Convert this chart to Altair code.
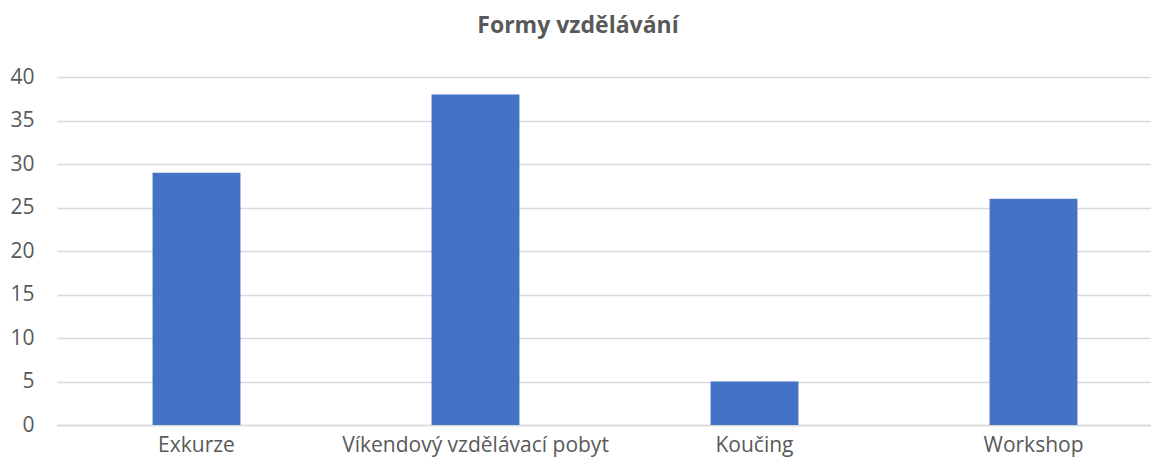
import altair as alt
import pandas as pd

categories = ["Exkurze", "Víkendový vzdělávací pobyt", "Koučing", "Workshop"]
values = [29, 38, 5, 26]

df = pd.DataFrame({"forma": categories, "pocet": values})

FONT = "Open Sans"
TXT = "#595959"
GRID = "#D9D9D9"

chart = (
    alt.Chart(df)
    .mark_bar(color="#4472C4")
    .encode(
        x=alt.X(
            "forma:N",
            sort=categories,
            title=None,
            scale=alt.Scale(range=[0, 1116], paddingInner=0.685, paddingOuter=0.3425),
            axis=alt.Axis(
                labelAngle=0,
                ticks=False,
                domain=True,
                domainColor=GRID,
                domainWidth=1.5,
                labelPadding=9,
                labelFont=FONT,
                labelFontSize=21,
                labelColor=TXT,
                labelLimit=0,
                grid=False,
            ),
        ),
        y=alt.Y(
            "pocet:Q",
            title=None,
            scale=alt.Scale(domain=[0, 40]),
            axis=alt.Axis(
                values=[0, 5, 10, 15, 20, 25, 30, 35, 40],
                ticks=False,
                domain=False,
                gridColor=GRID,
                gridWidth=1.5,
                labelPadding=23,
                labelFont=FONT,
                labelFontSize=21,
                labelColor=TXT,
            ),
        ),
    )
    .properties(
        width=1094,
        height=348,
        autosize=alt.AutoSizeParams(type="none"),
        padding={"left": 49, "top": 69, "right": 0, "bottom": 32},
        title=alt.TitleParams(
            "Formy vzdělávání",
            font=FONT,
            fontSize=23,
            fontWeight="bold",
            color=TXT,
            anchor="middle",
            frame="group",
            dx=-26,
            offset=28,
        ),
    )
    .configure_view(stroke=None)
)

chart.save("out.html", embed_options={"renderer": "svg", "actions": False})
